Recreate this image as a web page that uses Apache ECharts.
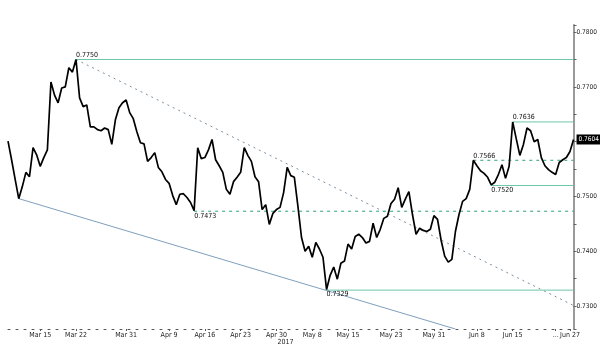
<!DOCTYPE html>
<html><head><meta charset="utf-8">
<script src="https://cdn.jsdelivr.net/npm/echarts@6/dist/echarts.min.js"></script>
<style>html,body{margin:0;padding:0;background:#fff}#c{width:600px;height:346px}</style>
</head><body><div id="c"></div>
<script>
// Trading sessions (two per weekday), Mar 8 2017 PM .. Jun 27 2017 PM
const firstDay = '2017-03-08';
const lastDay = '2017-06-27';
const categories = [];
for (let d = new Date(firstDay + 'T00:00:00Z'); d <= new Date(lastDay + 'T00:00:00Z'); d.setUTCDate(d.getUTCDate() + 1)) {
  const wd = d.getUTCDay();
  if (wd === 0 || wd === 6) continue;
  const s = d.toISOString().slice(0, 10);
  categories.push(s + ' 00:00', s + ' 12:00');
}
categories.shift();

// AUD/USD price per session
const prices = [
0.7601,0.7567,0.7531,0.7496,0.7518,0.7544,0.7536,0.7589,0.7576,0.7555,
0.7571,0.7585,0.7709,0.7685,0.7671,0.7698,0.7700,0.7735,0.7727,0.7750,
0.7680,0.7664,0.7667,0.7627,0.7627,0.7622,0.7620,0.7625,0.7622,0.7595,
0.7640,0.7662,0.7671,0.7676,0.7653,0.7642,0.7618,0.7598,0.7596,0.7564,
0.7571,0.7580,0.7553,0.7545,0.7531,0.7524,0.7502,0.7485,0.7504,0.7505,
0.7498,0.7489,0.7474,0.7589,0.7569,0.7571,0.7585,0.7604,0.7567,0.7556,
0.7544,0.7513,0.7504,0.7527,0.7535,0.7544,0.7589,0.7575,0.7564,0.7536,
0.7527,0.7476,0.7485,0.7449,0.7469,0.7476,0.7480,0.7507,0.7553,0.7538,
0.7535,0.7482,0.7425,0.7400,0.7409,0.7389,0.7416,0.7404,0.7389,0.7330,
0.7356,0.7371,0.7349,0.7378,0.7382,0.7413,0.7404,0.7427,0.7431,0.7425,
0.7415,0.7418,0.7451,0.7425,0.7440,0.7460,0.7464,0.7487,0.7495,0.7516,
0.7480,0.7495,0.7509,0.7467,0.7431,0.7442,0.7438,0.7436,0.7440,0.7465,
0.7458,0.7420,0.7391,0.7380,0.7385,0.7436,0.7467,0.7491,0.7496,0.7513,
0.7566,0.7556,0.7547,0.7542,0.7535,0.7521,0.7526,0.7540,0.7558,0.7533,
0.7555,0.7636,0.7605,0.7575,0.7595,0.7625,0.7620,0.7600,0.7604,0.7571,
0.7556,0.7549,0.7544,0.7540,0.7562,0.7567,0.7571,0.7582,0.7604
];

// x tick labels: [text, session they sit on]
const tickLabels = [
['Mar 15','2017-03-15 00:00'],['Mar 22','2017-03-22 00:00'],['Mar 31','2017-03-31 00:00'],
['Apr 9','2017-04-10 00:00'],['Apr 16','2017-04-17 00:00'],['Apr 23','2017-04-24 00:00'],
['Apr 30','2017-05-01 00:00'],['May 8','2017-05-08 00:00'],['May 15','2017-05-15 00:00'],
['May 23','2017-05-23 00:00'],['May 31','2017-05-31 00:00'],['Jun 8','2017-06-08 00:00'],
['Jun 15','2017-06-15 00:00'],['...','2017-06-23 00:00'],['Jun 27','2017-06-27 00:00']
];
const yearLabel = ['2017', '2017-05-01 00:00'];

// horizontal levels: [value, start session, label side, style]
const levels = [
[0.7750,'2017-03-22 00:00','top','solid'],
[0.7473,'2017-04-13 12:00','bottom','dashed'],
[0.7329,'2017-05-10 00:00','bottom','solid'],
[0.7636,'2017-06-15 00:00','top','solid'],
[0.7566,'2017-06-07 12:00','top','dashed'],
[0.7520,'2017-06-12 00:00','bottom','solid']
];
// trend lines: [[startSession, value], [endSession, value], style]
const trends = [
[['2017-03-22 00:00',0.7750],['2017-06-27 12:00',0.7301],'dotted'],
[['2017-03-10 00:00',0.7496],['2017-06-05 00:00',0.7258],'solid']
];

const labelMap = {};
tickLabels.forEach(t => { labelMap[t[1]] = t[0]; });
const lastKey = categories[categories.length - 1];
const FONT = '"DejaVu Sans Condensed","Liberation Sans Narrow",sans-serif';

const series = [];
trends.forEach(t => {
  series.push({
    type:'line', data:[t[0], t[1]], showSymbol:false, silent:true, z:1,
    lineStyle: t[2] === 'dotted'
      ? {color:'#7890a5', width:1, type:[2,4]}
      : {color:'#7f9fbd', width:1, type:'solid'}
  });
});
levels.forEach(l => {
  const col = l[3] === 'dashed' ? '#2f9f7e' : '#6cc7a8';
  series.push({
    type:'line', showSymbol:true, symbol:'circle', symbolSize:0, silent:true, z:2,
    itemStyle:{color:col},
    data:[{value:[l[1], l[0]], label:{show:true, position:l[2], align:'left', distance:1,
            formatter: l[0].toFixed(4), fontSize:7, color:'#111', fontFamily:FONT}},
          {value:[lastKey, l[0]], label:{show:false}}],
    lineStyle: l[3] === 'dashed'
      ? {color:col, width:1, type:[3,4]}
      : {color:col, width:1, type:'solid'}
  });
});
series.push({
  type:'line', data:prices, showSymbol:false, z:5,
  lineStyle:{color:'#000', width:1.7},
  endLabel:{show:true, formatter: p => p.value.toFixed(4), backgroundColor:'#000', color:'#fff',
    padding:[2,2,1,2], fontSize:6.5, distance:3, fontFamily:FONT}
});

const chart = echarts.init(document.getElementById('c'), null, {renderer:'canvas'});
chart.setOption({
  animation:false,
  backgroundColor:'#fff',
  grid:{left:8, right:26, top:25, bottom:16},
  xAxis:{
    type:'category', data:categories, boundaryGap:false,
    axisLine:{show:true, lineStyle:{color:'#555', width:1, type:[2,6]}},
    axisTick:{show:true, length:2, interval:(i, v) => labelMap[v] !== undefined, lineStyle:{color:'#555'}},
    axisLabel:{
      interval:(i, v) => labelMap[v] !== undefined,
      formatter: v => v === yearLabel[1] ? '{a|' + labelMap[v] + '}\n{b|' + yearLabel[0] + '}' : labelMap[v],
      fontSize:7, color:'#222', margin:3, fontFamily:FONT,
      rich:{a:{fontSize:7, color:'#222', fontFamily:FONT}, b:{fontSize:7, color:'#222', fontFamily:FONT, padding:[0,0,0,18]}}
    },
    splitLine:{show:false}
  },
  yAxis:{
    type:'value', position:'right', min:0.7258, max:0.7813, splitNumber:5, scale:true,
    axisLine:{show:true, lineStyle:{color:'#9a9a9a', width:2}},
    axisTick:{show:true, length:3, lineStyle:{color:'#666'}},
    minorTick:{show:true, splitNumber:2, length:3, lineStyle:{color:'#666'}},
    axisLabel:{fontSize:6.5, color:'#222', margin:3, fontFamily:FONT, showMinLabel:false, showMaxLabel:false,
      formatter: v => v.toFixed(4)},
    splitLine:{show:false}
  },
  series: series
});
</script></body></html>
